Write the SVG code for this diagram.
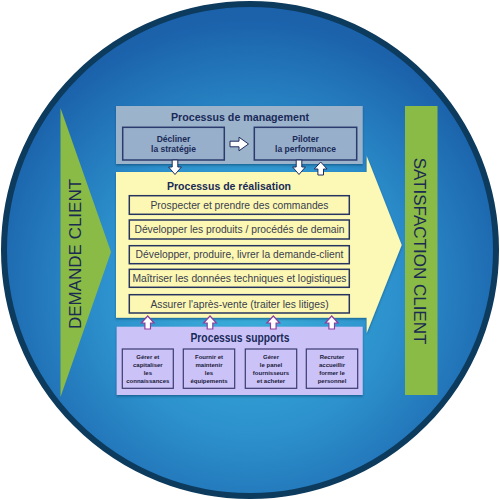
<svg xmlns="http://www.w3.org/2000/svg" width="500" height="500" viewBox="0 0 500 500">
<defs>
<radialGradient id="bg" cx="50%" cy="58%" r="55%">
<stop offset="0" stop-color="#3cb2dc"/>
<stop offset="0.55" stop-color="#2c90cc"/>
<stop offset="1" stop-color="#1b62ab"/>
</radialGradient>
<path id="arrDown" d="M-2.8,0 h5.6 v7 h3.6 l-6.4,7.5 l-6.4,-7.5 h3.6 z"/>
<path id="arrUp" d="M-2.8,13 h5.6 v-6 h3.6 l-6.4,-7 l-6.4,7 h3.6 z"/>
<filter id="sh" x="-5%" y="-5%" width="110%" height="115%">
<feDropShadow dx="0" dy="1.5" stdDeviation="1.2" flood-color="#0a2a50" flood-opacity="0.45"/>
</filter>
</defs>
<style>
.title{font-family:"Liberation Sans",Arial,sans-serif;font-weight:bold;fill:#1a2a58;text-anchor:middle}
.mbox{fill:#97afca;stroke:#2b3b6e;stroke-width:1.5}
.mtxt{font-family:"Liberation Sans",Arial,sans-serif;font-weight:bold;font-size:8.5px;fill:#1a2a58;text-anchor:middle}
.rbox{fill:#fcf8b3;stroke:#26345f;stroke-width:1.5}
.rtxt{font-family:"Liberation Sans",Arial,sans-serif;font-size:10.3px;fill:#3a3d4e;text-anchor:middle}
.sbox{fill:#cbc2f7;stroke:#3a3a70;stroke-width:1.2}
.stxt{font-family:"Liberation Sans",Arial,sans-serif;font-weight:bold;font-size:6px;fill:#1a1a3a;text-anchor:middle}
.white{fill:#ffffff;stroke:#1f2d5c;stroke-width:1}
.pink{fill:#ffffff;stroke:#8d3f9e;stroke-width:1.2}
.big{font-family:"Liberation Sans",Arial,sans-serif;font-size:17px;fill:#1a2a50;text-anchor:middle}
</style>
<circle cx="250" cy="250" r="246" fill="url(#bg)" stroke="#0d3b5e" stroke-width="6"/>

<g id="demande-client">
<polygon points="60.5,108 111,252 60.5,397" fill="#8bbb47"/>
<text class="big" transform="translate(81,254) rotate(-90)">DEMANDE CLIENT</text>
</g>

<g id="satisfaction-client">
<rect x="405" y="106" width="32.5" height="289" fill="#8bbb47"/>
<text class="big" transform="translate(414,251) rotate(90)">SATISFACTION CLIENT</text>
</g>

<g id="realisation">
<polygon points="116,172 366.7,172 366.7,156 401.7,245 366.7,333 366.7,317.7 116,317.7" fill="#fcf9b6" filter="url(#sh)"/>
<text class="title" x="229" y="189.5" font-size="11.5" textLength="124" lengthAdjust="spacingAndGlyphs">Processus de réalisation</text>
</g>

<g id="management">
<rect x="116" y="106" width="246.7" height="58" fill="#9cb3cc" filter="url(#sh)"/>
<text class="title" x="240" y="121" font-size="11.5" textLength="138" lengthAdjust="spacingAndGlyphs">Processus de management</text>
</g>
<g id="decliner">
<rect class="mbox" x="122.7" y="127.3" width="101.6" height="32.7"/>
<text class="mtxt" x="173.5" y="141.5">Décliner</text>
<text class="mtxt" x="173.5" y="152">la stratégie</text>
</g>
<g id="piloter">
<rect class="mbox" x="254.3" y="127.3" width="102.4" height="32.7"/>
<text class="mtxt" x="305.5" y="141.5">Piloter</text>
<text class="mtxt" x="305.5" y="152">la performance</text>
</g>

<g id="supports">
<rect x="116.7" y="326.7" width="246" height="68.3" fill="#cbc3f8" filter="url(#sh)"/>
<text class="title" x="240" y="342.3" font-size="12.5" textLength="99" lengthAdjust="spacingAndGlyphs">Processus supports</text>
</g>

<g id="r1"><rect class="rbox" x="129.3" y="195.7" width="220" height="18.6"/><text class="rtxt" x="239.5" y="208.7">Prospecter et prendre des commandes</text></g>
<g id="r2"><rect class="rbox" x="129.3" y="220" width="220" height="19"/><text class="rtxt" x="239.5" y="233.2">Développer les produits / procédés de demain</text></g>
<g id="r3"><rect class="rbox" x="129.3" y="245.7" width="220" height="18"/><text class="rtxt" x="239.5" y="258.3">Développer, produire, livrer la demande-client</text></g>
<g id="r4"><rect class="rbox" x="129.3" y="269.3" width="220" height="18"/><text class="rtxt" x="239.5" y="281.9">Maîtriser les données techniques et logistiques</text></g>
<g id="r5"><rect class="rbox" x="129.3" y="294.7" width="220" height="18.3"/><text class="rtxt" x="239.5" y="307.5">Assurer l'après-vente (traiter les litiges)</text></g>

<g id="s1"><rect class="sbox" x="122.3" y="349" width="51" height="39.3"/>
<text class="stxt" x="147.8" y="358.5">Gérer et</text><text class="stxt" x="147.8" y="366.8">capitaliser</text><text class="stxt" x="147.8" y="374.8">les</text><text class="stxt" x="147.8" y="383">connaissances</text></g>
<g id="s2"><rect class="sbox" x="183.3" y="349" width="51.4" height="39.3"/>
<text class="stxt" x="209" y="358.5">Fournir et</text><text class="stxt" x="209" y="366.8">maintenir</text><text class="stxt" x="209" y="374.8">les</text><text class="stxt" x="209" y="383">équipements</text></g>
<g id="s3"><rect class="sbox" x="245.3" y="349" width="51.4" height="39.3"/>
<text class="stxt" x="271" y="358.5">Gérer</text><text class="stxt" x="271" y="366.8">le panel</text><text class="stxt" x="271" y="374.8">fournisseurs</text><text class="stxt" x="271" y="383">et acheter</text></g>
<g id="s4"><rect class="sbox" x="306.3" y="349" width="51.4" height="39.3"/>
<text class="stxt" x="332" y="358.5">Recruter</text><text class="stxt" x="332" y="366.8">accueillir</text><text class="stxt" x="332" y="374.8">former le</text><text class="stxt" x="332" y="383">personnel</text></g>

<g id="connectors">
<path class="white" d="M230,141.2 h9 v-4 l9.5,6.8 l-9.5,6.8 v-4 h-9 z"/>
<use href="#arrDown" class="white" x="175" y="160"/>
<use href="#arrDown" class="white" x="299" y="160"/>
<use href="#arrUp" class="white" x="320.7" y="162"/>
<use href="#arrUp" class="pink" x="147.7" y="316"/>
<use href="#arrUp" class="pink" x="210" y="316"/>
<use href="#arrUp" class="pink" x="273.3" y="316"/>
<use href="#arrUp" class="pink" x="331.7" y="316"/>
</g>
</svg>
